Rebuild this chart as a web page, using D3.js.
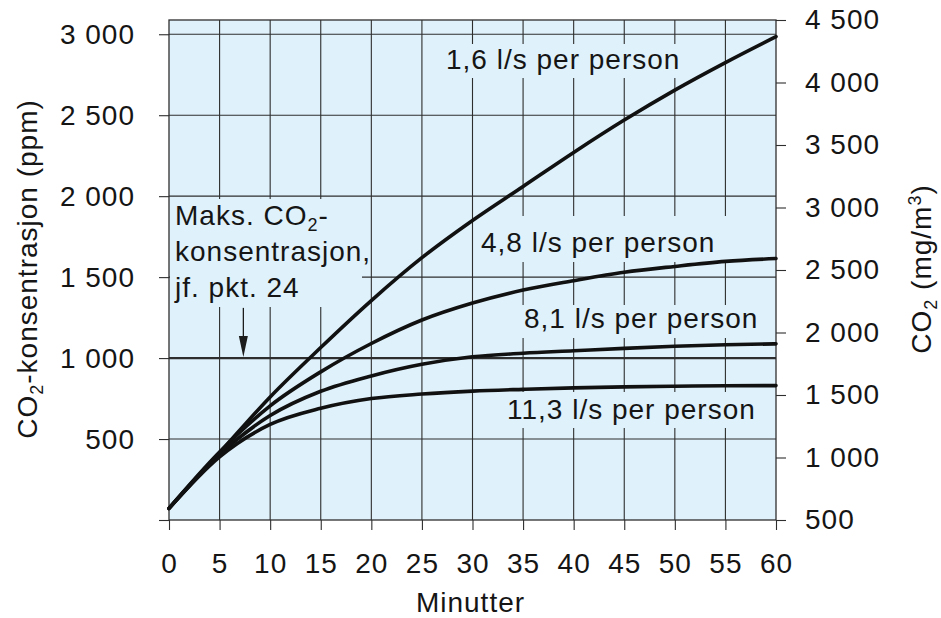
<!DOCTYPE html>
<html><head><meta charset="utf-8">
<script src="https://cdn.jsdelivr.net/npm/d3@7"></script>
<style>
body{margin:0;background:#fff}
svg{display:block}
text{font-family:"Liberation Sans",Arial,Helvetica,sans-serif;fill:#151515}
</style>
</head><body>
<svg id="chart" width="941" height="618"></svg>
<script>
// ---- data ----
const minutes = [0, 5, 10, 15, 20, 25, 30, 35, 40, 45, 50, 55, 60];
const seriesLabels = ["1,6 l/s per person", "4,8 l/s per person", "8,1 l/s per person", "11,3 l/s per person"];
const ppm_1_6  = [72, 415, 760, 1065, 1355, 1620, 1850, 2060, 2270, 2470, 2655, 2825, 2985];
const ppm_4_8  = [72, 420, 705, 915, 1090, 1235, 1340, 1420, 1478, 1530, 1566, 1597, 1615];
const ppm_8_1  = [72, 405, 645, 795, 890, 962, 1008, 1030, 1045, 1060, 1073, 1082, 1088];
const ppm_11_3 = [72, 390, 590, 690, 750, 778, 796, 807, 816, 822, 826, 829, 830];
const minuteTicks = [0, 5, 10, 15, 20, 25, 30, 35, 40, 45, 50, 55, 60];
const ppmTicks = [0, 500, 1000, 1500, 2000, 2500, 3000];
const mgTicks = [500, 1000, 1500, 2000, 2500, 3000, 3500, 4000, 4500];
const maxPpm = 1000;          // Maks. CO2-konsentrasjon
const arrowMinute = 7.35;
const arrowFromPpm = 1310;

// ---- layout ----
const W = 941, H = 618;
const X0 = 169, X1 = 776, Y0 = 520, Y1 = 20;
const FS = 28;
const BG = "#dff1fa";
const INK = "#151515";

const svg = d3.select("#chart");
const x = d3.scaleLinear().domain([0, 60]).range([X0, X1]);
const yL = d3.scaleLinear().domain([0, 3088]).range([Y0, Y1]);
const yR = d3.scaleLinear().domain([500, 4500]).range([Y0, Y1]);
const fmt = d3.formatLocale({decimal: ",", thousands: " ", grouping: [3], currency: ["", ""]}).format(",");

// plot background
svg.append("rect").attr("x", X0).attr("y", Y1).attr("width", X1 - X0).attr("height", Y0 - Y1)
  .attr("fill", BG);

// grid
const grid = svg.append("g").attr("stroke", "#2e2e2e").attr("stroke-width", 1.1);
grid.selectAll(".v").data(minuteTicks.filter(d => d > 0 && d < 60)).enter().append("line")
  .attr("x1", d => x(d)).attr("x2", d => x(d)).attr("y1", Y1).attr("y2", Y0);
grid.selectAll(".h").data(ppmTicks.filter(d => d > 0)).enter().append("line")
  .attr("x1", X0).attr("x2", X1).attr("y1", d => yL(d)).attr("y2", d => yL(d))
  .attr("stroke-width", d => d === maxPpm ? 2.4 : 1.1);

// label background boxes (hide grid behind text)
const boxes = [
  {x: 170, y: 199, w: 192, h: 108},
  {x: 440, y: 44, w: 250, h: 34},
  {x: 475, y: 216, w: 252, h: 46},
  {x: 515, y: 305, w: 256, h: 33},
  {x: 500, y: 392, w: 266, h: 36}
];
svg.append("g").selectAll("rect").data(boxes).enter().append("rect")
  .attr("x", d => d.x).attr("y", d => d.y).attr("width", d => d.w).attr("height", d => d.h)
  .attr("fill", BG);

// frame
svg.append("rect").attr("x", X0).attr("y", Y1).attr("width", X1 - X0).attr("height", Y0 - Y1)
  .attr("fill", "none").attr("stroke", "#2e2e2e").attr("stroke-width", 1.3);

// curves
const allSeries = [ppm_1_6, ppm_4_8, ppm_8_1, ppm_11_3];
const line = d3.line().x((d, i) => x(minutes[i])).y(d => yL(d)).curve(d3.curveMonotoneX);
svg.append("g").selectAll("path").data(allSeries).enter().append("path")
  .attr("d", d => line(d)).attr("fill", "none").attr("stroke", "#111")
  .attr("stroke-width", 3.6).attr("stroke-linecap", "round");

// axes
function styleAxis(g) {
  g.select(".domain").remove();
  g.selectAll(".tick line").attr("stroke", "#2e2e2e").attr("stroke-width", 1.1);
  g.selectAll(".tick text").attr("font-size", FS).attr("fill", INK)
    .attr("font-family", '"Liberation Sans",Arial,sans-serif').style("letter-spacing", "1px");
  g.attr("font-size", FS).attr("font-family", null);
}
svg.append("g").attr("transform", `translate(${X0},0)`)
  .call(d3.axisLeft(yL).tickValues(ppmTicks.filter(d => d > 0)).tickFormat(fmt).tickSize(10).tickPadding(24))
  .call(styleAxis);
// tick at 0 ppm (no label)
svg.append("g").attr("transform", `translate(${X0},0)`)
  .call(d3.axisLeft(yL).tickValues([0]).tickFormat("").tickSize(10))
  .call(styleAxis);
svg.append("g").attr("transform", `translate(0,${Y0})`)
  .call(d3.axisBottom(x).tickValues(minuteTicks).tickSize(10).tickPadding(23))
  .call(styleAxis);
svg.append("g").attr("transform", `translate(${X1},0)`)
  .call(d3.axisRight(yR).tickValues(mgTicks).tickFormat(fmt).tickSize(10).tickPadding(19))
  .call(styleAxis);

// axis titles
svg.append("text").attr("x", (X0 + X1) / 2 - 2).attr("y", 612).attr("text-anchor", "middle")
  .attr("font-size", FS).style("letter-spacing", "1px").text("Minutter");

const lt = svg.append("text").attr("transform", "translate(37,269) rotate(-90)")
  .attr("text-anchor", "middle").attr("font-size", FS).style("letter-spacing", "1px");
lt.append("tspan").text("CO");
lt.append("tspan").attr("font-size", 18).attr("dy", 6).text("2");
lt.append("tspan").attr("dy", -6).text("-konsentrasjon (ppm)");

const rt = svg.append("text").attr("transform", "translate(931,269) rotate(-90)")
  .attr("text-anchor", "middle").attr("font-size", FS).style("letter-spacing", "1px");
rt.append("tspan").text("CO");
rt.append("tspan").attr("font-size", 18).attr("dy", 6).text("2");
rt.append("tspan").attr("dy", -6).text(" (mg/m");
rt.append("tspan").attr("font-size", 18).attr("dy", -10).text("3");
rt.append("tspan").attr("dy", 10).text(")");

// annotation
const a1 = svg.append("text").attr("x", 175).attr("y", 225).attr("font-size", FS).style("letter-spacing", "1px");
a1.append("tspan").text("Maks. CO");
a1.append("tspan").attr("font-size", 18).attr("dy", 6).text("2");
a1.append("tspan").attr("dy", -6).text("-");
svg.append("text").attr("x", 175).attr("y", 261).attr("font-size", FS).style("letter-spacing", "1px").text("konsentrasjon,");
svg.append("text").attr("x", 175).attr("y", 297).attr("font-size", FS).style("letter-spacing", "1px").text("jf. pkt. 24");

// arrow
const ax = x(arrowMinute), ay0 = yL(arrowFromPpm), ay1 = yL(maxPpm) - 1;
svg.append("line").attr("x1", ax).attr("x2", ax).attr("y1", ay0).attr("y2", ay1 - 14)
  .attr("stroke", "#1c1c1c").attr("stroke-width", 1.3);
svg.append("path").attr("d", `M${ax - 4.5},${ay1 - 21}L${ax + 4.5},${ay1 - 21}L${ax},${ay1}Z`).attr("fill", "#1c1c1c");

// curve labels
const labelPos = [
  {x: 446, y: 69},
  {x: 481, y: 252},
  {x: 524, y: 328},
  {x: 507, y: 419}
];
svg.append("g").selectAll("text").data(seriesLabels).enter().append("text")
  .attr("x", (d, i) => labelPos[i].x).attr("y", (d, i) => labelPos[i].y)
  .attr("font-size", FS).style("letter-spacing", "1px").text(d => d);
</script>
</body></html>
